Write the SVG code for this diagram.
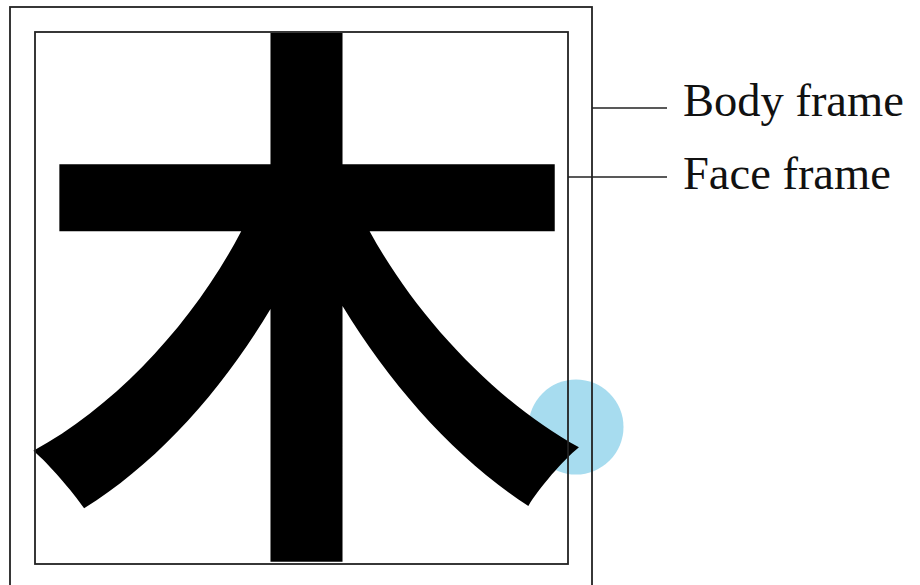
<svg xmlns="http://www.w3.org/2000/svg" width="920" height="585" viewBox="0 0 920 585">
<style>
.frame{fill:none;stroke:#222;stroke-width:1.8}
.lead{stroke:#222;stroke-width:1.6}
.label{font-family:"Liberation Serif","DejaVu Serif",serif;font-size:46.5px;fill:#111}
.glyph{font-family:"Noto Sans CJK JP","Noto Sans CJK SC",sans-serif;font-weight:700;fill:#000}
</style>
<rect width="920" height="585" fill="#fff"/>
<g id="highlight"><circle cx="576" cy="427" r="47.5" fill="#a7dcef"/></g>
<g id="glyph"><text class="glyph" x="25" y="511" font-size="563">木</text></g>
<g id="body-frame"><rect class="frame" x="10" y="7" width="582" height="600"/></g>
<g id="face-frame"><rect class="frame" x="35" y="32" width="533" height="532"/></g>
<g id="connectors">
<line class="lead" x1="592" y1="108" x2="667" y2="108"/>
<line class="lead" x1="568" y1="177" x2="667" y2="177"/>
</g>
<g id="label-body"><text class="label" x="683" y="116">Body frame</text></g>
<g id="label-face"><text class="label" x="683" y="189">Face frame</text></g>
</svg>
